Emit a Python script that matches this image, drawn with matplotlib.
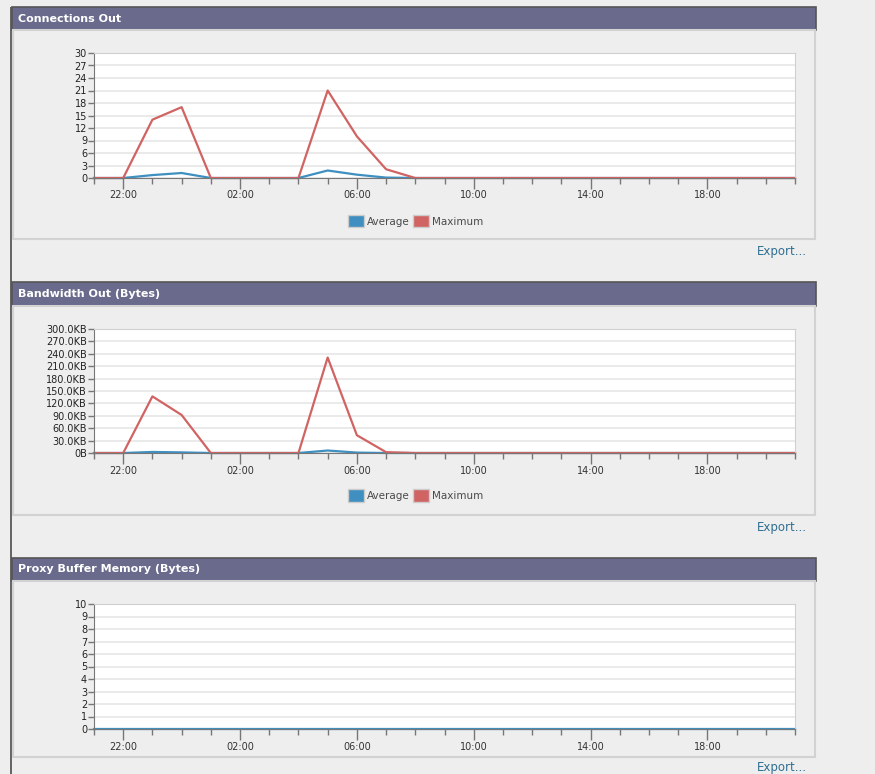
import matplotlib
matplotlib.use("Agg")
from matplotlib import pyplot as plt
from matplotlib.patches import Rectangle, Patch
from matplotlib.ticker import FixedLocator, FuncFormatter

W, H = 875, 774

# Hourly samples starting at 21:00 and running for 24 hours
hours = list(range(25))
major_hours = [1, 5, 9, 13, 17, 21]
major_labels = ["22:00", "02:00", "06:00", "10:00", "14:00", "18:00"]

conn_avg = [0, 0, 0.7, 1.2, 0, 0, 0, 0, 1.8, 0.8, 0.1, 0, 0,
            0, 0, 0, 0, 0, 0, 0, 0, 0, 0, 0, 0]
conn_max = [0, 0, 14, 17, 0, 0, 0, 0, 21, 10, 2.1, 0, 0,
            0, 0, 0, 0, 0, 0, 0, 0, 0, 0, 0, 0]

bw_avg_kb = [0, 0, 2.5, 1.5, 0, 0, 0, 0, 6, 1, 0, 0, 0,
             0, 0, 0, 0, 0, 0, 0, 0, 0, 0, 0, 0]
bw_max_kb = [0, 0, 137, 92, 0, 0, 0, 0, 231, 43, 2, 0, 0,
             0, 0, 0, 0, 0, 0, 0, 0, 0, 0, 0, 0]

buffer_avg = [0, 0, 0, 0, 0, 0, 0, 0, 0, 0, 0, 0, 0,
              0, 0, 0, 0, 0, 0, 0, 0, 0, 0, 0, 0]

BG = "#eeeeee"
HEADER = "#696a8c"
AVG_COLOR = "#3f8fc0"
MAX_COLOR = "#d06463"
LINK = "#2e6f92"

fig = plt.figure(figsize=(W / 100, H / 100), dpi=100, facecolor=BG)


def fx(x):
    return x / W


def fy(y):
    return 1 - y / H


def rect(x0, y0, x1, y1, **kw):
    # background boxes sit behind the chart axes
    fig.patches.append(Rectangle((fx(x0), fy(y1)), fx(x1) - fx(x0), fy(y0) - fy(y1),
                                 transform=fig.transFigure, zorder=-5, **kw))


def panel(title, head_top, head_bot, box_bot, export_y):
    rect(12, head_top, 816, head_bot, facecolor=HEADER, edgecolor="#555555", lw=1.2)
    rect(13, head_bot, 815, box_bot, facecolor=BG, edgecolor="#d2d2d2", lw=1.5)
    fig.text(fx(18), fy((head_top + head_bot) / 2), title, color="white",
             fontsize=8, fontweight="bold", va="center", ha="left")
    fig.text(fx(807), fy(export_y), "Export...", color=LINK, fontsize=8.5,
             ha="right", va="center")


def chart(top, bottom, ymax, step, fmt=None):
    ax = fig.add_axes([fx(94), fy(bottom), fx(795) - fx(94), fy(top) - fy(bottom)])
    ax.set_facecolor("white")
    ax.set_xlim(0, 24)
    ax.set_ylim(0, ymax)
    yt = [i * step for i in range(int(round(ymax / step)) + 1)]
    ax.set_yticks(yt)
    if fmt:
        ax.yaxis.set_major_formatter(FuncFormatter(fmt))
    ax.yaxis.grid(True, color="#e6e6e6", lw=1.2)
    ax.set_axisbelow(True)
    ax.xaxis.set_major_locator(FixedLocator(major_hours))
    ax.set_xticklabels(major_labels)
    ax.xaxis.set_minor_locator(FixedLocator(hours))
    ax.tick_params(axis="x", which="major", length=8, width=1, color="#777777",
                   labelsize=7, labelcolor="#333333", pad=1)
    ax.tick_params(axis="x", which="minor", length=4, width=1, color="#777777")
    ax.tick_params(axis="y", length=4, width=1, color="#777777",
                   labelsize=7, labelcolor="#222222", pad=1)
    for side in ("top", "right"):
        ax.spines[side].set_color("#d0d0d0")
    ax.spines["left"].set_color("#777777")
    ax.spines["bottom"].set_color("#777777")
    return ax


def legend(ax):
    handles = [Patch(facecolor=AVG_COLOR, edgecolor="#cccccc", label="Average"),
               Patch(facecolor=MAX_COLOR, edgecolor="#cccccc", label="Maximum")]
    ax.legend(handles=handles, loc="center", bbox_to_anchor=(0.459, -0.345),
              ncol=2, frameon=False, fontsize=7.5, handlelength=1.5, handleheight=1.5,
              handletextpad=0.35, columnspacing=0.3, labelcolor="#4a4a4a",
              borderaxespad=0, borderpad=0)


# Left page border
rect(10, 7, 12, H + 5, facecolor="#666666", edgecolor="none")

# Connections Out
panel("Connections Out", 7, 30, 239, 251)
ax1 = chart(53, 178, 30, 3)
ax1.plot(hours, conn_avg, color=AVG_COLOR, lw=1.6, clip_on=False)
ax1.plot(hours, conn_max, color=MAX_COLOR, lw=1.6, clip_on=False)
legend(ax1)

# Bandwidth Out
panel("Bandwidth Out (Bytes)", 282, 306, 515, 527)
ax2 = chart(329, 453, 300, 30,
            fmt=lambda v, p: "0B" if v == 0 else f"{v:.1f}KB")
ax2.plot(hours, bw_avg_kb, color=AVG_COLOR, lw=1.6, clip_on=False)
ax2.plot(hours, bw_max_kb, color=MAX_COLOR, lw=1.6, clip_on=False)
legend(ax2)

# Proxy Buffer Memory
panel("Proxy Buffer Memory (Bytes)", 558, 581, 757, 767)
ax3 = chart(604, 729, 10, 1)
ax3.plot(hours, buffer_avg, color=AVG_COLOR, lw=1.6, clip_on=False)

fig.savefig("out.png", dpi=100, facecolor=BG)
